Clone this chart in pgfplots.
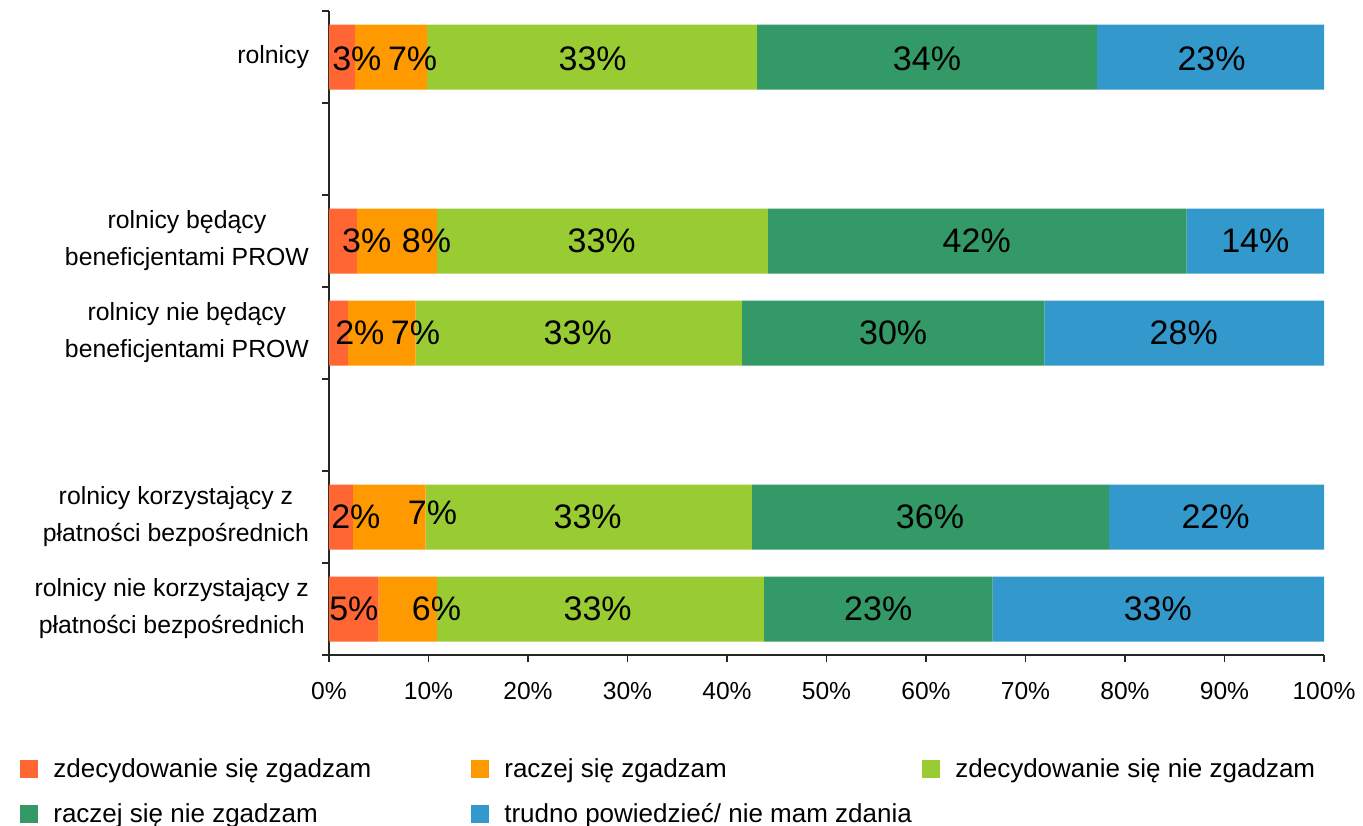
\documentclass[border=0pt]{standalone}
\usepackage{fontspec}
\setmainfont{Liberation Sans}
\usepackage{pgfplots}
\pgfplotsset{compat=1.18}

\definecolor{c1}{HTML}{FF6633}
\definecolor{c2}{HTML}{FF9900}
\definecolor{c3}{HTML}{99CC33}
\definecolor{c4}{HTML}{339966}
\definecolor{c5}{HTML}{3399CC}

\begin{document}
\begin{tikzpicture}
\useasboundingbox (-164.5pt,-85pt) rectangle (517pt,327.5pt);
\pgfplotsset{
  base/.style={width=497.5pt, height=322pt, scale only axis,
    xmin=0, xmax=100, ymin=-0.5, ymax=6.5},
}
% bars
\begin{axis}[base,
  xbar stacked, bar width=32.5pt,
  axis x line*=bottom, axis y line*=left,
  axis line style={-, black!85, line width=0.6pt},
  tick align=outside,
  tick style={black!85, line width=0.6pt},
  major tick length=3.5pt, minor tick length=3.5pt,
  major y tick style={draw=none},
  xtick={0,10,...,100},
  xticklabels={0\%,10\%,20\%,30\%,40\%,50\%,60\%,70\%,80\%,90\%,100\%},
  xticklabel style={font=\fontsize{12.3}{14}\selectfont, yshift=-6.5pt},
  ytick={0,1,3,4,6},
  yticklabels={rolnicy nie korzystający z\\płatności bezpośrednich,
    rolnicy korzystający z\\płatności bezpośrednich,
    rolnicy nie będący\\beneficjentami PROW,
    rolnicy będący\\beneficjentami PROW,
    rolnicy},
  yticklabel style={font=\fontsize{12.4}{18.5}\selectfont, align=center, xshift=-3pt},
  minor ytick={-0.5,0.5,...,6.5},
  legend columns=3,
  legend cell align=left,
  legend image code/.code={\pgfsetbaseline{0pt}\fill[#1] (0pt,-4.5pt) rectangle (9pt,4.5pt);},
  legend style={at={(axis description cs:-0.3106,-0.1599)}, anchor=north west,
    draw=none, inner sep=0pt, nodes={inner sep=0pt},
    font=\fontsize{13}{15}\selectfont, row sep=11.5pt,
    /tikz/every odd column/.append style={column sep=7.5pt},
    /tikz/every even column/.append style={column sep=9pt}},
]
\addplot[fill=c1, draw=none] coordinates {(5.0,0) (2.4,1) (1.9,3) (2.8,4) (2.6,6)};
\addplot[fill=c2, draw=none] coordinates {(5.85,0) (7.3,1) (6.8,3) (8.05,4) (7.25,6)};
\addplot[fill=c3, draw=none] coordinates {(32.85,0) (32.8,1) (32.8,3) (33.25,4) (33.15,6)};
\addplot[fill=c4, draw=none] coordinates {(23.0,0) (35.9,1) (30.4,3) (42.1,4) (34.2,6)};
\addplot[fill=c5, draw=none] coordinates {(33.3,0) (21.6,1) (28.1,3) (13.8,4) (22.8,6)};
\addlegendentry{\makebox[200pt][l]{zdecydowanie się zgadzam}}
\addlegendentry{\makebox[200pt][l]{raczej się zgadzam}}
\addlegendentry{\makebox[200pt][l]{zdecydowanie się nie zgadzam}}
\addlegendentry{\makebox[200pt][l]{raczej się nie zgadzam}}
\addlegendentry{\makebox[200pt][l]{trudno powiedzieć/ nie mam zdania}}
\end{axis}
% value labels
\begin{axis}[base, hide axis, clip=false]
\addplot[only marks, mark=*, mark size=0pt, mark options={draw=none, fill=none},
  nodes near coords, point meta=explicit symbolic,
  nodes near coords align={anchor=center},
  every node near coord/.append style={font=\fontsize{17}{17}\selectfont,
    inner sep=0pt, anchor=center, text=black}]
coordinates {
  (2.8,5.98) [3\%] (8.4,5.98) [7\%] (26.5,5.98) [33\%] (60.1,5.98) [34\%] (88.7,5.98) [23\%]
  (3.8,4) [3\%] (9.8,4) [8\%] (27.4,4) [33\%] (65.1,4) [42\%] (93.1,4) [14\%]
  (3.1,3) [2\%] (8.7,3) [7\%] (25.0,3) [33\%] (56.7,3) [30\%] (85.9,3) [28\%]
  (2.7,1) [2\%] (10.4,1.05) [7\%] (26.0,1) [33\%] (60.4,1) [36\%] (89.1,1) [22\%]
  (2.5,0) [5\%] (10.8,0) [6\%] (27.0,0) [33\%] (55.2,0) [23\%] (83.3,0) [33\%]
};
\end{axis}
\end{tikzpicture}
\end{document}
